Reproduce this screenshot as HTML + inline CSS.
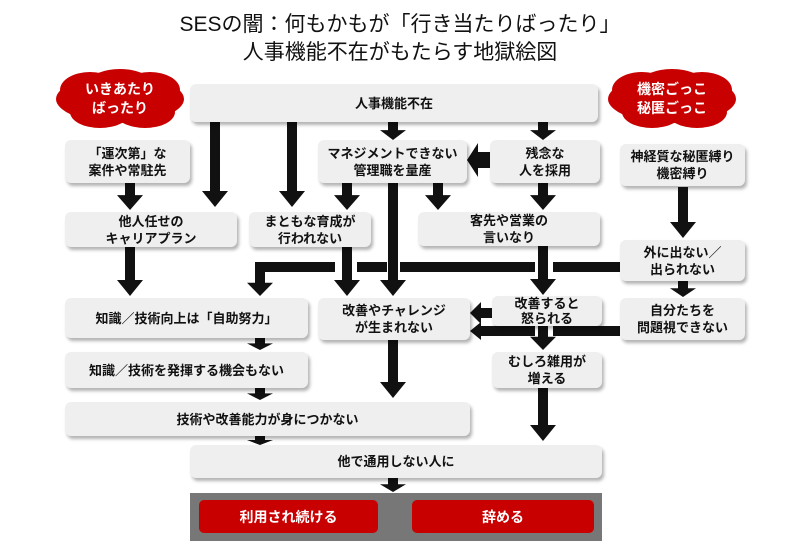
<!DOCTYPE html>
<html><head><meta charset="utf-8"><style>
body{margin:0;background:#fff;}
#c{position:relative;width:800px;height:554px;overflow:hidden;font-family:"Liberation Sans","Noto Sans CJK JP",sans-serif;}
.t{position:absolute;left:0;width:800px;text-align:center;font-size:21px;color:#111;}
.b{position:absolute;background:#efefef;border-radius:6px;box-shadow:2px 3px 3px rgba(0,0,0,.3);display:flex;align-items:center;justify-content:center;text-align:center;font-size:13px;font-weight:bold;line-height:17px;color:#111;box-sizing:border-box;}
.r{position:absolute;background:#c80000;border-radius:5px;color:#fff;font-size:14px;font-weight:bold;display:flex;align-items:center;justify-content:center;}
.cl{position:absolute;color:#fff;font-size:14px;font-weight:bold;text-align:center;line-height:19px;}
svg{position:absolute;left:0;top:0;}
</style></head><body><div id="c">
<div class="t" style="top:8px">SESの闇：何もかもが「行き当たりばったり」</div>
<div class="t" style="top:36px">人事機能不在がもたらす地獄絵図</div>
<svg width="800" height="554">
<g fill="#c80000">
<ellipse cx="120" cy="99" rx="64" ry="24"/><ellipse cx="90" cy="90" rx="30" ry="18"/><ellipse cx="150" cy="90" rx="30" ry="18"/><ellipse cx="100" cy="112" rx="30" ry="16"/><ellipse cx="145" cy="112" rx="30" ry="16"/><ellipse cx="120" cy="82" rx="30" ry="13"/>
<ellipse cx="672" cy="99" rx="64" ry="24"/><ellipse cx="642" cy="90" rx="30" ry="18"/><ellipse cx="702" cy="90" rx="30" ry="18"/><ellipse cx="652" cy="112" rx="30" ry="16"/><ellipse cx="697" cy="112" rx="30" ry="16"/><ellipse cx="672" cy="82" rx="30" ry="13"/>
</g>
<rect x="190" y="493" width="412" height="48" fill="#777"/>
<g fill="#111">
<!-- horizontal line y=267 -->
<rect x="255" y="262" width="80" height="10"/>
<rect x="357" y="262" width="30" height="10"/>
<rect x="400" y="262" width="135" height="10"/>
<rect x="553" y="262" width="67" height="10"/>
<rect x="255" y="262" width="10" height="22"/>
<!-- line y=331 -->
<rect x="480" y="326" width="55" height="10"/>
<rect x="553" y="326" width="67" height="10"/>
</g>
<g fill="#111" id="arrows"></g>
</svg>
<div class="cl" style="left:70px;top:80px;width:100px">いきあたり<br>ばったり</div>
<div class="cl" style="left:622px;top:80px;width:100px">機密ごっこ<br>秘匿ごっこ</div>

<div class="b" style="left:190px;top:84px;width:408px;height:38px">人事機能不在</div>
<div class="b" style="left:65px;top:140px;width:125px;height:43px">「運次第」な<br>案件や常駐先</div>
<div class="b" style="left:318px;top:140px;width:149px;height:43px">マネジメントできない<br>管理職を量産</div>
<div class="b" style="left:490px;top:140px;width:110px;height:43px">残念な<br>人を採用</div>
<div class="b" style="left:620px;top:144px;width:125px;height:42px">神経質な秘匿縛り<br>機密縛り</div>
<div class="b" style="left:65px;top:212px;width:172px;height:35px">他人任せの<br>キャリアプラン</div>
<div class="b" style="left:249px;top:212px;width:122px;height:35px">まともな育成が<br>行われない</div>
<div class="b" style="left:418px;top:212px;width:182px;height:34px">客先や営業の<br>言いなり</div>
<div class="b" style="left:620px;top:240px;width:125px;height:41px">外に出ない／<br>出られない</div>
<div class="b" style="left:65px;top:298px;width:243px;height:40px">知識／技術向上は「自助努力」</div>
<div class="b" style="left:318px;top:298px;width:152px;height:42px">改善やチャレンジ<br>が生まれない</div>
<div class="b" style="left:492px;top:296px;width:110px;height:30px;line-height:15px">改善すると<br>怒られる</div>
<div class="b" style="left:620px;top:298px;width:125px;height:42px">自分たちを<br>問題視できない</div>
<div class="b" style="left:65px;top:352px;width:243px;height:36px">知識／技術を発揮する機会もない</div>
<div class="b" style="left:492px;top:352px;width:110px;height:36px">むしろ雑用が<br>増える</div>
<div class="b" style="left:65px;top:402px;width:405px;height:34px">技術や改善能力が身につかない</div>
<div class="b" style="left:190px;top:445px;width:412px;height:33px">他で通用しない人に</div>
<div class="r" style="left:199px;top:500px;width:179px;height:33px">利用され続ける</div>
<div class="r" style="left:412px;top:500px;width:182px;height:33px">辞める</div>
<script>
var A=[[215,122,207],[292,122,207],[393,122,140],[543,122,140],[130,183,210],[347,183,210],[438,183,210],[543,183,210],[683,187,238],[130,247,296],[347,247,296],[393,183,296],[543,246,295],[683,281,297],[260,272,296],[543,326,350],[260,338,350],[393,340,398],[260,388,400],[543,388,441],[260,436,445],[393,478,492]];
var g=document.getElementById('arrows'),s='';
A.forEach(function(a){var x=a[0],y1=a[1],y2=a[2],h=Math.min(16,(y2-y1)*0.55);
s+='<rect x="'+(x-5)+'" y="'+y1+'" width="10" height="'+(y2-y1-h+1)+'"/><polygon points="'+(x-13)+','+(y2-h)+' '+(x+13)+','+(y2-h)+' '+x+','+y2+'"/>';});
// left arrows
s+='<rect x="478" y="152" width="12" height="16"/><polygon points="478,143 478,177 467,160"/>';
s+='<rect x="480" y="308" width="12" height="10"/><polygon points="481,302 481,324 470,313"/>';
s+='<polygon points="481,322 481,340 470,331"/>';
g.innerHTML=s;
</script>
</div></body></html>
